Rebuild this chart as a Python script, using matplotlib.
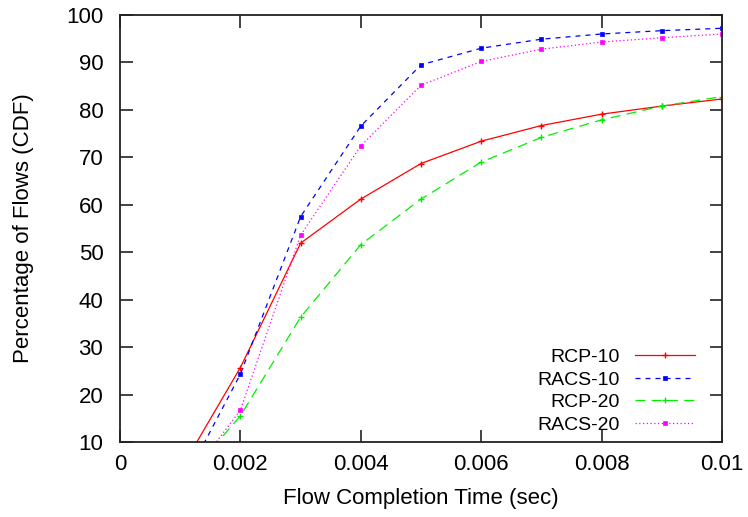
import matplotlib
matplotlib.use("Agg")
import matplotlib.pyplot as plt

plt.rcParams['font.family'] = ['Liberation Sans', 'DejaVu Sans']

# flow completion time (sec)
fct = [0.001, 0.002, 0.003, 0.004, 0.005, 0.006, 0.007, 0.008, 0.009, 0.010]

# percentage of flows (CDF)
rcp_10 = [4.0, 25.7, 51.9, 61.2, 68.7, 73.4, 76.7, 79.1, 80.8, 82.3]
racs_10 = [0.2, 24.3, 57.5, 76.6, 89.5, 93.0, 94.9, 96.0, 96.7, 97.2]
rcp_20 = [0.9, 15.5, 36.3, 51.6, 61.2, 69.0, 74.2, 77.9, 80.8, 82.8]
racs_20 = [0.0, 16.7, 53.6, 72.4, 85.2, 90.2, 92.8, 94.3, 95.2, 96.0]

x_ticks = [0, 0.002, 0.004, 0.006, 0.008, 0.01]
x_tick_labels = ["0", "0.002", "0.004", "0.006", "0.008", "0.01"]
y_ticks = [10, 20, 30, 40, 50, 60, 70, 80, 90, 100]

fs = 16

fig = plt.figure(figsize=(7.48, 5.17), dpi=100)
ax = fig.add_axes([120 / 748, 1 - 442 / 517, 602 / 748, 427 / 517])

ax.plot(fct, rcp_10, color='#ff0000', lw=0.9, ls='-', marker='+', ms=5, mew=1,
        label='RCP-10')
ax.plot(fct, racs_10, color='#0000ff', lw=0.9, ls=(0, (4, 4)), marker='s', ms=3.5, mew=0.5,
        label='RACS-10')
ax.plot(fct, rcp_20, color='#00ee00', lw=0.9, ls=(0, (8, 5)), marker='+', ms=5, mew=1,
        label='RCP-20')
ax.plot(fct, racs_20, color='#ff00ff', lw=0.9, ls=(0, (1, 2)), marker='s', ms=3.5, mew=0.5,
        label='RACS-20')

ax.set_xlim(0, 0.01)
ax.set_ylim(10, 100)
ax.set_xticks(x_ticks)
ax.set_xticklabels(x_tick_labels)
ax.set_yticks(y_ticks)
ax.tick_params(direction='in', length=9, width=1.2, top=True, right=True,
               labelsize=fs, color='#222222')
ax.tick_params(axis='y', pad=12)
ax.tick_params(axis='x', pad=9)
for s in ax.spines.values():
    s.set_linewidth(1.3)
    s.set_color('#222222')

ax.set_xlabel("Flow Completion Time (sec)", fontsize=fs)
ax.set_ylabel("Percentage of Flows (CDF)", fontsize=fs)
ax.xaxis.set_label_coords(0.5, -0.108)
ax.yaxis.set_label_coords(-0.143, 0.5)

ax.legend(loc='lower right', bbox_to_anchor=(0.955, 0.019), frameon=False,
          markerfirst=False, fontsize=14, numpoints=1,
          handlelength=3.1, handletextpad=0.77, labelspacing=0.26,
          borderaxespad=0, borderpad=0)

fig.savefig("out.png", dpi=100)
